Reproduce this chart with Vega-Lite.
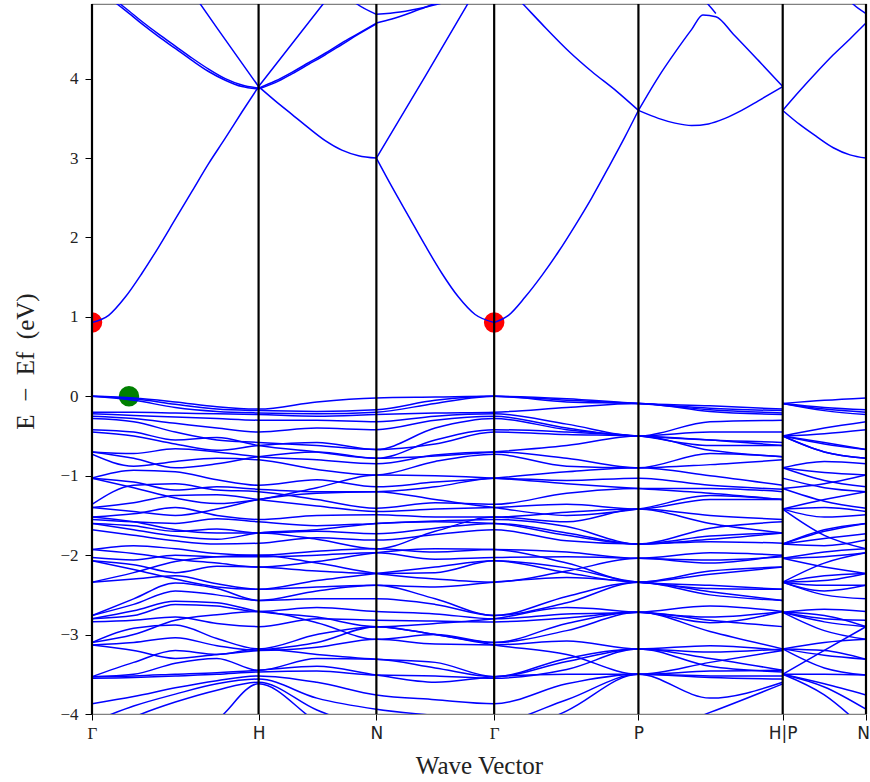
{
"$schema":"https://vega.github.io/schema/vega-lite/v6.json",
"width":774,"height":710,"autosize":"none",
"padding":{"left":92,"top":4,"right":4,"bottom":68},
"background":"white",
"config":{"view":{"stroke":"#808080","strokeWidth":1.2}},
"encoding":{"x":{"field":"k","type":"quantitative","scale":{"domain":[0,4.6463],"nice":false,"zero":false},
 "axis":{"values":[0,1,1.7071,2.4142,3.2802,4.1463,4.6463],
 "labelExpr":"datum.value < 0.5 ? 'Γ' : datum.value < 1.5 ? 'H' : datum.value < 2 ? 'N' : datum.value < 3 ? 'Γ' : datum.value < 4 ? 'P' : datum.value < 4.4 ? 'H|P' : 'N'",
 "title":"Wave Vector","grid":false,"domain":false,"tickSize":6,"tickColor":"#000","tickWidth":1,
 "labelFontSize":17,"labelColor":"#222","labelFlush":false,"labelOverlap":false,"labelPadding":5,
 "labelOffset":{"condition":{"test":"datum.value > 4.6","value":-3},"value":0},
 "labelFont":{"condition":{"test":"datum.value < 0.5 || abs(datum.value - 2.4142) < 0.01","value":"Liberation Serif"},"value":"DejaVu Sans"},
 "titleFont":"Liberation Serif","titleFontSize":25,"titleFontWeight":"normal","titleColor":"#222","titleBaseline":"alphabetic","titleY":59}}},
"layer":[
{"data":{"values":[{"k":0,"e":0.93,"c":"CBM"},{"k":2.4142,"e":0.93,"c":"CBM"},{"k":0.222,"e":0,"c":"VBM"}]},
 "mark":{"type":"circle","opacity":1,"clip":true},
 "encoding":{"y":{"field":"e","type":"quantitative","scale":{"domain":[-4,4.94],"nice":false,"zero":false},
  "axis":{"values":[-4,-3,-2,-1,0,1,2,3,4],"format":"d","grid":false,"domain":false,"tickSize":7,"tickColor":"#000","labelFont":"Liberation Serif","labelFontSize":17,"labelColor":"#222","labelPadding":7,"title":"E\u2002−\u2002Ef\u2002(eV)","titleFont":"Liberation Serif","titleFontSize":25,"titleFontWeight":"normal","titleColor":"#222","titleAngle":270,"titleBaseline":"alphabetic","titleX":-59,"titleY":357}},
  "color":{"field":"c","type":"nominal","scale":{"domain":["CBM","VBM"],"range":["#ff0000","#008000"]},"legend":null},
  "size":{"value":420}}},
{"data":{"values":[
{"b":"c1a","k":0,"e":0.93},{"b":"c1a","k":0.1,"e":1.02},{"b":"c1a","k":0.2,"e":1.25},{"b":"c1a","k":0.3,"e":1.55},{"b":"c1a","k":0.4,"e":1.88},{"b":"c1a","k":0.5,"e":2.23},{"b":"c1a","k":0.6,"e":2.58},{"b":"c1a","k":0.7,"e":2.93},{"b":"c1a","k":0.8,"e":3.25},{"b":"c1a","k":0.9,"e":3.58},{"b":"c1a","k":1,"e":3.9},
{"b":"c1b","k":1,"e":3.9},{"b":"c1b","k":1.1,"e":3.72},{"b":"c1b","k":1.2,"e":3.55},{"b":"c1b","k":1.3,"e":3.38},{"b":"c1b","k":1.4,"e":3.22},{"b":"c1b","k":1.5,"e":3.1},{"b":"c1b","k":1.6,"e":3.03},{"b":"c1b","k":1.7071,"e":3.0},
{"b":"c1c","k":1.7071,"e":3.0},{"b":"c1c","k":1.8,"e":2.64},{"b":"c1c","k":1.9,"e":2.27},{"b":"c1c","k":2.0,"e":1.9},{"b":"c1c","k":2.1,"e":1.55},{"b":"c1c","k":2.2,"e":1.25},{"b":"c1c","k":2.3,"e":1.03},{"b":"c1c","k":2.4142,"e":0.93},
{"b":"c1d","k":2.4142,"e":0.93},{"b":"c1d","k":2.5,"e":1.02},{"b":"c1d","k":2.6,"e":1.25},{"b":"c1d","k":2.7,"e":1.52},{"b":"c1d","k":2.8,"e":1.82},{"b":"c1d","k":2.9,"e":2.15},{"b":"c1d","k":3.0,"e":2.5},{"b":"c1d","k":3.1,"e":2.88},{"b":"c1d","k":3.2,"e":3.27},{"b":"c1d","k":3.2802,"e":3.6},
{"b":"c1e","k":3.2802,"e":3.6},{"b":"c1e","k":3.4,"e":3.5},{"b":"c1e","k":3.5,"e":3.44},{"b":"c1e","k":3.6,"e":3.41},{"b":"c1e","k":3.7,"e":3.43},{"b":"c1e","k":3.8,"e":3.5},{"b":"c1e","k":3.9,"e":3.6},{"b":"c1e","k":4.0,"e":3.72},{"b":"c1e","k":4.1463,"e":3.9},
{"b":"c1f","k":4.1463,"e":3.6},{"b":"c1f","k":4.25,"e":3.42},{"b":"c1f","k":4.35,"e":3.27},{"b":"c1f","k":4.45,"e":3.13},{"b":"c1f","k":4.55,"e":3.04},{"b":"c1f","k":4.6463,"e":3.0},
{"b":"c2a","k":0,"e":5.2},{"b":"c2a","k":0.1,"e":5.05},{"b":"c2a","k":0.2,"e":4.89},{"b":"c2a","k":0.3,"e":4.72},{"b":"c2a","k":0.4,"e":4.56},{"b":"c2a","k":0.5,"e":4.41},{"b":"c2a","k":0.6,"e":4.26},{"b":"c2a","k":0.7,"e":4.12},{"b":"c2a","k":0.8,"e":4.0},{"b":"c2a","k":0.9,"e":3.92},{"b":"c2a","k":1,"e":3.88},
{"b":"c2b","k":0,"e":5.17},{"b":"c2b","k":0.1,"e":5.02},{"b":"c2b","k":0.2,"e":4.86},{"b":"c2b","k":0.3,"e":4.69},{"b":"c2b","k":0.4,"e":4.53},{"b":"c2b","k":0.5,"e":4.38},{"b":"c2b","k":0.6,"e":4.23},{"b":"c2b","k":0.7,"e":4.09},{"b":"c2b","k":0.8,"e":3.98},{"b":"c2b","k":0.9,"e":3.9},{"b":"c2b","k":1,"e":3.87},
{"b":"c2c","k":1,"e":3.88},{"b":"c2c","k":1.1,"e":3.97},{"b":"c2c","k":1.2,"e":4.08},{"b":"c2c","k":1.3,"e":4.2},{"b":"c2c","k":1.4,"e":4.32},{"b":"c2c","k":1.5,"e":4.45},{"b":"c2c","k":1.6,"e":4.57},{"b":"c2c","k":1.7071,"e":4.7},
{"b":"c2d","k":1,"e":3.87},{"b":"c2d","k":1.1,"e":3.95},{"b":"c2d","k":1.2,"e":4.06},{"b":"c2d","k":1.3,"e":4.18},{"b":"c2d","k":1.4,"e":4.3},{"b":"c2d","k":1.5,"e":4.43},{"b":"c2d","k":1.6,"e":4.56},{"b":"c2d","k":1.7071,"e":4.69},
{"b":"c2e","k":1.7071,"e":4.7},{"b":"c2e","k":1.8,"e":4.75},{"b":"c2e","k":1.9,"e":4.82},{"b":"c2e","k":2.0,"e":4.9},{"b":"c2e","k":2.1,"e":4.98},{"b":"c2e","k":2.2,"e":5.06},
{"b":"c3a","k":0.5,"e":5.39},{"b":"c3a","k":0.75,"e":4.64},{"b":"c3a","k":1,"e":3.9},
{"b":"c3b","k":1,"e":3.9},{"b":"c3b","k":1.387,"e":4.94},{"b":"c3b","k":1.5,"e":5.24},
{"b":"c4","k":1.7071,"e":3.0},{"b":"c4","k":2.0,"e":4.03},{"b":"c4","k":2.3,"e":5.1},
{"b":"c5a","k":1.5,"e":5.1},{"b":"c5a","k":1.59,"e":4.94},{"b":"c5a","k":1.7071,"e":4.81},
{"b":"c5b","k":1.7071,"e":4.81},{"b":"c5b","k":1.85,"e":4.84},{"b":"c5b","k":2.0,"e":4.9},{"b":"c5b","k":2.15,"e":4.98},
{"b":"c6","k":2.5,"e":5.13},{"b":"c6","k":2.587,"e":4.94},{"b":"c6","k":2.7,"e":4.69},{"b":"c6","k":2.87,"e":4.33},{"b":"c6","k":3.0,"e":4.09},{"b":"c6","k":3.15,"e":3.84},{"b":"c6","k":3.2802,"e":3.6},
{"b":"c7","k":3.2802,"e":3.6},{"b":"c7","k":3.4,"e":4.02},{"b":"c7","k":3.5,"e":4.33},{"b":"c7","k":3.6,"e":4.62},{"b":"c7","k":3.667,"e":4.8},{"b":"c7","k":3.745,"e":4.78},{"b":"c7","k":3.85,"e":4.56},{"b":"c7","k":4.0,"e":4.23},{"b":"c7","k":4.1463,"e":3.9},
{"b":"c8","k":3.6,"e":5.12},{"b":"c8","k":3.697,"e":4.94},{"b":"c8","k":3.745,"e":4.82},
{"b":"c9","k":4.1463,"e":3.6},{"b":"c9","k":4.25,"e":3.85},{"b":"c9","k":4.35,"e":4.08},{"b":"c9","k":4.45,"e":4.3},{"b":"c9","k":4.55,"e":4.5},{"b":"c9","k":4.6463,"e":4.7},
{"b":"c10","k":4.5,"e":5.1},{"b":"c10","k":4.568,"e":4.94},{"b":"c10","k":4.6463,"e":4.82},
{"b":"v1","k":0,"e":0},{"b":"v1","k":0.25,"e":-0.02},{"b":"v1","k":0.5,"e":-0.07},{"b":"v1","k":0.75,"e":-0.13},{"b":"v1","k":1,"e":-0.16},{"b":"v1","k":1.35,"e":-0.07},{"b":"v1","k":1.7071,"e":-0.02},{"b":"v1","k":2.06,"e":-0.01},{"b":"v1","k":2.4142,"e":0},{"b":"v1","k":2.85,"e":-0.03},{"b":"v1","k":3.2802,"e":-0.09},{"b":"v1","k":3.71,"e":-0.12},{"b":"v1","k":4.1463,"e":-0.16},
{"b":"v1p","k":4.1463,"e":-0.09},{"b":"v1p","k":4.396,"e":-0.05},{"b":"v1p","k":4.6463,"e":-0.02},
{"b":"v2","k":0,"e":0},{"b":"v2","k":0.25,"e":-0.03},{"b":"v2","k":0.5,"e":-0.1},{"b":"v2","k":0.75,"e":-0.16},{"b":"v2","k":1,"e":-0.18},{"b":"v2","k":1.35,"e":-0.19},{"b":"v2","k":1.7071,"e":-0.17},{"b":"v2","k":2.06,"e":-0.05},{"b":"v2","k":2.4142,"e":0},{"b":"v2","k":2.85,"e":-0.05},{"b":"v2","k":3.2802,"e":-0.09},{"b":"v2","k":3.71,"e":-0.15},{"b":"v2","k":4.1463,"e":-0.18},
{"b":"v2p","k":4.1463,"e":-0.09},{"b":"v2p","k":4.396,"e":-0.14},{"b":"v2p","k":4.6463,"e":-0.17},
{"b":"v3","k":0,"e":0},{"b":"v3","k":0.25,"e":-0.05},{"b":"v3","k":0.5,"e":-0.14},{"b":"v3","k":0.75,"e":-0.19},{"b":"v3","k":1,"e":-0.21},{"b":"v3","k":1.35,"e":-0.22},{"b":"v3","k":1.7071,"e":-0.2},{"b":"v3","k":2.06,"e":-0.09},{"b":"v3","k":2.4142,"e":0},{"b":"v3","k":2.85,"e":-0.07},{"b":"v3","k":3.2802,"e":-0.09},{"b":"v3","k":3.71,"e":-0.17},{"b":"v3","k":4.1463,"e":-0.21},
{"b":"v3p","k":4.1463,"e":-0.09},{"b":"v3p","k":4.396,"e":-0.16},{"b":"v3p","k":4.6463,"e":-0.2},
{"b":"v4","k":0,"e":-0.2},{"b":"v4","k":0.25,"e":-0.2},{"b":"v4","k":0.5,"e":-0.21},{"b":"v4","k":0.75,"e":-0.22},{"b":"v4","k":1,"e":-0.23},{"b":"v4","k":1.35,"e":-0.25},{"b":"v4","k":1.7071,"e":-0.23},{"b":"v4","k":2.06,"e":-0.21},{"b":"v4","k":2.4142,"e":-0.2},{"b":"v4","k":2.85,"e":-0.14},{"b":"v4","k":3.2802,"e":-0.09},{"b":"v4","k":3.71,"e":-0.19},{"b":"v4","k":4.1463,"e":-0.23},
{"b":"v4p","k":4.1463,"e":-0.09},{"b":"v4p","k":4.396,"e":-0.18},{"b":"v4p","k":4.6463,"e":-0.23},
{"b":"v5","k":0,"e":-0.22},{"b":"v5","k":0.25,"e":-0.24},{"b":"v5","k":0.5,"e":-0.26},{"b":"v5","k":0.75,"e":-0.28},{"b":"v5","k":1,"e":-0.3},{"b":"v5","k":1.35,"e":-0.3},{"b":"v5","k":1.7071,"e":-0.32},{"b":"v5","k":2.06,"e":-0.25},{"b":"v5","k":2.4142,"e":-0.22},{"b":"v5","k":2.85,"e":-0.35},{"b":"v5","k":3.2802,"e":-0.5},{"b":"v5","k":3.71,"e":-0.32},{"b":"v5","k":4.1463,"e":-0.3},
{"b":"v5p","k":4.1463,"e":-0.5},{"b":"v5p","k":4.396,"e":-0.4},{"b":"v5p","k":4.6463,"e":-0.32},
{"b":"v6","k":0,"e":-0.25},{"b":"v6","k":0.25,"e":-0.28},{"b":"v6","k":0.5,"e":-0.34},{"b":"v6","k":0.75,"e":-0.4},{"b":"v6","k":1,"e":-0.45},{"b":"v6","k":1.35,"e":-0.4},{"b":"v6","k":1.7071,"e":-0.42},{"b":"v6","k":2.06,"e":-0.3},{"b":"v6","k":2.4142,"e":-0.25},{"b":"v6","k":2.85,"e":-0.4},{"b":"v6","k":3.2802,"e":-0.5},{"b":"v6","k":3.71,"e":-0.45},{"b":"v6","k":4.1463,"e":-0.45},
{"b":"v6p","k":4.1463,"e":-0.5},{"b":"v6p","k":4.396,"e":-0.47},{"b":"v6p","k":4.6463,"e":-0.42},
{"b":"v7","k":0,"e":-0.28},{"b":"v7","k":0.25,"e":-0.32},{"b":"v7","k":0.5,"e":-0.45},{"b":"v7","k":0.75,"e":-0.55},{"b":"v7","k":1,"e":-0.58},{"b":"v7","k":1.35,"e":-0.62},{"b":"v7","k":1.7071,"e":-0.67},{"b":"v7","k":2.06,"e":-0.4},{"b":"v7","k":2.4142,"e":-0.28},{"b":"v7","k":2.85,"e":-0.42},{"b":"v7","k":3.2802,"e":-0.5},{"b":"v7","k":3.71,"e":-0.55},{"b":"v7","k":4.1463,"e":-0.58},
{"b":"v7p","k":4.1463,"e":-0.5},{"b":"v7p","k":4.396,"e":-0.58},{"b":"v7p","k":4.6463,"e":-0.67},
{"b":"v8","k":0,"e":-0.42},{"b":"v8","k":0.25,"e":-0.45},{"b":"v8","k":0.5,"e":-0.55},{"b":"v8","k":0.75,"e":-0.52},{"b":"v8","k":1,"e":-0.62},{"b":"v8","k":1.35,"e":-0.7},{"b":"v8","k":1.7071,"e":-0.78},{"b":"v8","k":2.06,"e":-0.55},{"b":"v8","k":2.4142,"e":-0.42},{"b":"v8","k":2.85,"e":-0.45},{"b":"v8","k":3.2802,"e":-0.5},{"b":"v8","k":3.71,"e":-0.62},{"b":"v8","k":4.1463,"e":-0.62},
{"b":"v8p","k":4.1463,"e":-0.5},{"b":"v8p","k":4.396,"e":-0.7},{"b":"v8p","k":4.6463,"e":-0.78},
{"b":"v9","k":0,"e":-0.7},{"b":"v9","k":0.25,"e":-0.72},{"b":"v9","k":0.5,"e":-0.66},{"b":"v9","k":0.75,"e":-0.7},{"b":"v9","k":1,"e":-0.76},{"b":"v9","k":1.35,"e":-0.8},{"b":"v9","k":1.7071,"e":-0.85},{"b":"v9","k":2.06,"e":-0.74},{"b":"v9","k":2.4142,"e":-0.7},{"b":"v9","k":2.85,"e":-0.78},{"b":"v9","k":3.2802,"e":-0.9},{"b":"v9","k":3.71,"e":-0.72},{"b":"v9","k":4.1463,"e":-0.76},
{"b":"v9p","k":4.1463,"e":-0.9},{"b":"v9p","k":4.396,"e":-0.82},{"b":"v9p","k":4.6463,"e":-0.85},
{"b":"v10","k":0,"e":-0.73},{"b":"v10","k":0.25,"e":-0.88},{"b":"v10","k":0.5,"e":-0.82},{"b":"v10","k":0.75,"e":-0.78},{"b":"v10","k":1,"e":-0.8},{"b":"v10","k":1.35,"e":-0.92},{"b":"v10","k":1.7071,"e":-0.99},{"b":"v10","k":2.06,"e":-0.82},{"b":"v10","k":2.4142,"e":-0.73},{"b":"v10","k":2.85,"e":-0.88},{"b":"v10","k":3.2802,"e":-0.9},{"b":"v10","k":3.71,"e":-0.86},{"b":"v10","k":4.1463,"e":-0.8},
{"b":"v10p","k":4.1463,"e":-0.9},{"b":"v10p","k":4.396,"e":-0.96},{"b":"v10p","k":4.6463,"e":-0.99},
{"b":"v11","k":0,"e":-1.03},{"b":"v11","k":0.25,"e":-0.93},{"b":"v11","k":0.5,"e":-0.95},{"b":"v11","k":0.75,"e":-1.05},{"b":"v11","k":1,"e":-1.12},{"b":"v11","k":1.35,"e":-1.05},{"b":"v11","k":1.7071,"e":-1.14},{"b":"v11","k":2.06,"e":-1.08},{"b":"v11","k":2.4142,"e":-1.03},{"b":"v11","k":2.85,"e":-0.95},{"b":"v11","k":3.2802,"e":-0.9},{"b":"v11","k":3.71,"e":-1.0},{"b":"v11","k":4.1463,"e":-1.12},
{"b":"v11p","k":4.1463,"e":-0.9},{"b":"v11p","k":4.396,"e":-1.06},{"b":"v11p","k":4.6463,"e":-1.14},
{"b":"v12","k":0,"e":-1.03},{"b":"v12","k":0.25,"e":-1.08},{"b":"v12","k":0.5,"e":-1.18},{"b":"v12","k":0.75,"e":-1.14},{"b":"v12","k":1,"e":-1.17},{"b":"v12","k":1.35,"e":-1.2},{"b":"v12","k":1.7071,"e":-1.2},{"b":"v12","k":2.06,"e":-1.14},{"b":"v12","k":2.4142,"e":-1.03},{"b":"v12","k":2.85,"e":-1.06},{"b":"v12","k":3.2802,"e":-1.03},{"b":"v12","k":3.71,"e":-1.12},{"b":"v12","k":4.1463,"e":-1.17},
{"b":"v12p","k":4.1463,"e":-1.03},{"b":"v12p","k":4.396,"e":-1.15},{"b":"v12p","k":4.6463,"e":-1.2},
{"b":"v13","k":0,"e":-1.36},{"b":"v13","k":0.25,"e":-1.12},{"b":"v13","k":0.5,"e":-1.1},{"b":"v13","k":0.75,"e":-1.18},{"b":"v13","k":1,"e":-1.2},{"b":"v13","k":1.35,"e":-1.3},{"b":"v13","k":1.7071,"e":-1.41},{"b":"v13","k":2.06,"e":-1.34},{"b":"v13","k":2.4142,"e":-1.36},{"b":"v13","k":2.85,"e":-1.22},{"b":"v13","k":3.2802,"e":-1.16},{"b":"v13","k":3.71,"e":-1.16},{"b":"v13","k":4.1463,"e":-1.2},
{"b":"v13p","k":4.1463,"e":-1.16},{"b":"v13p","k":4.396,"e":-1.32},{"b":"v13p","k":4.6463,"e":-1.41},
{"b":"v14","k":0,"e":-1.4},{"b":"v14","k":0.25,"e":-1.34},{"b":"v14","k":0.5,"e":-1.25},{"b":"v14","k":0.75,"e":-1.24},{"b":"v14","k":1,"e":-1.3},{"b":"v14","k":1.35,"e":-1.38},{"b":"v14","k":1.7071,"e":-1.45},{"b":"v14","k":2.06,"e":-1.42},{"b":"v14","k":2.4142,"e":-1.4},{"b":"v14","k":2.85,"e":-1.36},{"b":"v14","k":3.2802,"e":-1.42},{"b":"v14","k":3.71,"e":-1.3},{"b":"v14","k":4.1463,"e":-1.3},
{"b":"v14p","k":4.1463,"e":-1.42},{"b":"v14p","k":4.396,"e":-1.4},{"b":"v14p","k":4.6463,"e":-1.45},
{"b":"v15","k":0,"e":-1.52},{"b":"v15","k":0.25,"e":-1.48},{"b":"v15","k":0.5,"e":-1.4},{"b":"v15","k":0.75,"e":-1.5},{"b":"v15","k":1,"e":-1.55},{"b":"v15","k":1.35,"e":-1.5},{"b":"v15","k":1.7071,"e":-1.49},{"b":"v15","k":2.06,"e":-1.52},{"b":"v15","k":2.4142,"e":-1.52},{"b":"v15","k":2.85,"e":-1.46},{"b":"v15","k":3.2802,"e":-1.42},{"b":"v15","k":3.71,"e":-1.5},{"b":"v15","k":4.1463,"e":-1.55},
{"b":"v15p","k":4.1463,"e":-1.42},{"b":"v15p","k":4.396,"e":-1.52},{"b":"v15p","k":4.6463,"e":-1.49},
{"b":"v16","k":0,"e":-1.55},{"b":"v16","k":0.25,"e":-1.58},{"b":"v16","k":0.5,"e":-1.6},{"b":"v16","k":0.75,"e":-1.54},{"b":"v16","k":1,"e":-1.58},{"b":"v16","k":1.35,"e":-1.63},{"b":"v16","k":1.7071,"e":-1.6},{"b":"v16","k":2.06,"e":-1.57},{"b":"v16","k":2.4142,"e":-1.55},{"b":"v16","k":2.85,"e":-1.64},{"b":"v16","k":3.2802,"e":-1.86},{"b":"v16","k":3.71,"e":-1.66},{"b":"v16","k":4.1463,"e":-1.58},
{"b":"v16p","k":4.1463,"e":-1.86},{"b":"v16p","k":4.396,"e":-1.68},{"b":"v16p","k":4.6463,"e":-1.6},
{"b":"v17","k":0,"e":-1.6},{"b":"v17","k":0.25,"e":-1.63},{"b":"v17","k":0.5,"e":-1.7},{"b":"v17","k":0.75,"e":-1.67},{"b":"v17","k":1,"e":-1.72},{"b":"v17","k":1.35,"e":-1.7},{"b":"v17","k":1.7071,"e":-1.73},{"b":"v17","k":2.06,"e":-1.66},{"b":"v17","k":2.4142,"e":-1.6},{"b":"v17","k":2.85,"e":-1.72},{"b":"v17","k":3.2802,"e":-1.86},{"b":"v17","k":3.71,"e":-1.76},{"b":"v17","k":4.1463,"e":-1.72},
{"b":"v17p","k":4.1463,"e":-1.86},{"b":"v17p","k":4.396,"e":-1.79},{"b":"v17p","k":4.6463,"e":-1.73},
{"b":"v18","k":0,"e":-1.68},{"b":"v18","k":0.25,"e":-1.75},{"b":"v18","k":0.5,"e":-1.82},{"b":"v18","k":0.75,"e":-1.86},{"b":"v18","k":1,"e":-1.85},{"b":"v18","k":1.35,"e":-1.78},{"b":"v18","k":1.7071,"e":-1.81},{"b":"v18","k":2.06,"e":-1.74},{"b":"v18","k":2.4142,"e":-1.68},{"b":"v18","k":2.85,"e":-1.82},{"b":"v18","k":3.2802,"e":-1.86},{"b":"v18","k":3.71,"e":-1.83},{"b":"v18","k":4.1463,"e":-1.85},
{"b":"v18p","k":4.1463,"e":-1.86},{"b":"v18p","k":4.396,"e":-1.88},{"b":"v18p","k":4.6463,"e":-1.81},
{"b":"v19","k":0,"e":-1.93},{"b":"v19","k":0.25,"e":-1.88},{"b":"v19","k":0.5,"e":-1.92},{"b":"v19","k":0.75,"e":-1.98},{"b":"v19","k":1,"e":-2.0},{"b":"v19","k":1.35,"e":-1.95},{"b":"v19","k":1.7071,"e":-1.92},{"b":"v19","k":2.06,"e":-1.96},{"b":"v19","k":2.4142,"e":-1.93},{"b":"v19","k":2.85,"e":-1.96},{"b":"v19","k":3.2802,"e":-2.04},{"b":"v19","k":3.71,"e":-1.97},{"b":"v19","k":4.1463,"e":-2.0},
{"b":"v19p","k":4.1463,"e":-2.04},{"b":"v19p","k":4.396,"e":-1.96},{"b":"v19p","k":4.6463,"e":-1.92},
{"b":"v20","k":0,"e":-2.03},{"b":"v20","k":0.25,"e":-2.06},{"b":"v20","k":0.5,"e":-2.0},{"b":"v20","k":0.75,"e":-2.02},{"b":"v20","k":1,"e":-2.02},{"b":"v20","k":1.35,"e":-2.0},{"b":"v20","k":1.7071,"e":-1.97},{"b":"v20","k":2.06,"e":-2.05},{"b":"v20","k":2.4142,"e":-2.03},{"b":"v20","k":2.85,"e":-2.02},{"b":"v20","k":3.2802,"e":-2.04},{"b":"v20","k":3.71,"e":-2.06},{"b":"v20","k":4.1463,"e":-2.02},
{"b":"v20p","k":4.1463,"e":-2.04},{"b":"v20p","k":4.396,"e":-2.02},{"b":"v20p","k":4.6463,"e":-1.97},
{"b":"v21","k":0,"e":-2.07},{"b":"v21","k":0.25,"e":-2.12},{"b":"v21","k":0.5,"e":-2.22},{"b":"v21","k":0.75,"e":-2.14},{"b":"v21","k":1,"e":-2.15},{"b":"v21","k":1.35,"e":-2.2},{"b":"v21","k":1.7071,"e":-2.23},{"b":"v21","k":2.06,"e":-2.22},{"b":"v21","k":2.4142,"e":-2.07},{"b":"v21","k":2.85,"e":-2.22},{"b":"v21","k":3.2802,"e":-2.34},{"b":"v21","k":3.71,"e":-2.24},{"b":"v21","k":4.1463,"e":-2.15},
{"b":"v21p","k":4.1463,"e":-2.34},{"b":"v21p","k":4.396,"e":-2.26},{"b":"v21p","k":4.6463,"e":-2.23},
{"b":"v22","k":0,"e":-2.34},{"b":"v22","k":0.25,"e":-2.3},{"b":"v22","k":0.5,"e":-2.26},{"b":"v22","k":0.75,"e":-2.36},{"b":"v22","k":1,"e":-2.43},{"b":"v22","k":1.35,"e":-2.4},{"b":"v22","k":1.7071,"e":-2.38},{"b":"v22","k":2.06,"e":-2.4},{"b":"v22","k":2.4142,"e":-2.34},{"b":"v22","k":2.85,"e":-2.28},{"b":"v22","k":3.2802,"e":-2.34},{"b":"v22","k":3.71,"e":-2.42},{"b":"v22","k":4.1463,"e":-2.43},
{"b":"v22p","k":4.1463,"e":-2.34},{"b":"v22p","k":4.396,"e":-2.38},{"b":"v22p","k":4.6463,"e":-2.38},
{"b":"v23","k":0,"e":-2.76},{"b":"v23","k":0.25,"e":-2.62},{"b":"v23","k":0.5,"e":-2.45},{"b":"v23","k":0.75,"e":-2.5},{"b":"v23","k":1,"e":-2.57},{"b":"v23","k":1.35,"e":-2.55},{"b":"v23","k":1.7071,"e":-2.55},{"b":"v23","k":2.06,"e":-2.62},{"b":"v23","k":2.4142,"e":-2.76},{"b":"v23","k":2.85,"e":-2.52},{"b":"v23","k":3.2802,"e":-2.34},{"b":"v23","k":3.71,"e":-2.46},{"b":"v23","k":4.1463,"e":-2.57},
{"b":"v23p","k":4.1463,"e":-2.34},{"b":"v23p","k":4.396,"e":-2.5},{"b":"v23p","k":4.6463,"e":-2.55},
{"b":"v24","k":0,"e":-2.8},{"b":"v24","k":0.25,"e":-2.76},{"b":"v24","k":0.5,"e":-2.62},{"b":"v24","k":0.75,"e":-2.64},{"b":"v24","k":1,"e":-2.71},{"b":"v24","k":1.35,"e":-2.66},{"b":"v24","k":1.7071,"e":-2.71},{"b":"v24","k":2.06,"e":-2.74},{"b":"v24","k":2.4142,"e":-2.8},{"b":"v24","k":2.85,"e":-2.74},{"b":"v24","k":3.2802,"e":-2.72},{"b":"v24","k":3.71,"e":-2.64},{"b":"v24","k":4.1463,"e":-2.71},
{"b":"v24p","k":4.1463,"e":-2.72},{"b":"v24p","k":4.396,"e":-2.68},{"b":"v24p","k":4.6463,"e":-2.71},
{"b":"v25","k":0,"e":-2.84},{"b":"v25","k":0.25,"e":-2.82},{"b":"v25","k":0.5,"e":-2.78},{"b":"v25","k":0.75,"e":-2.86},{"b":"v25","k":1,"e":-2.9},{"b":"v25","k":1.35,"e":-2.8},{"b":"v25","k":1.7071,"e":-2.82},{"b":"v25","k":2.06,"e":-2.83},{"b":"v25","k":2.4142,"e":-2.84},{"b":"v25","k":2.85,"e":-2.79},{"b":"v25","k":3.2802,"e":-2.72},{"b":"v25","k":3.71,"e":-2.82},{"b":"v25","k":4.1463,"e":-2.9},
{"b":"v25p","k":4.1463,"e":-2.72},{"b":"v25p","k":4.396,"e":-2.8},{"b":"v25p","k":4.6463,"e":-2.82},
{"b":"v26","k":0,"e":-3.1},{"b":"v26","k":0.25,"e":-2.92},{"b":"v26","k":0.5,"e":-2.88},{"b":"v26","k":0.75,"e":-3.05},{"b":"v26","k":1,"e":-3.18},{"b":"v26","k":1.35,"e":-3.0},{"b":"v26","k":1.7071,"e":-2.9},{"b":"v26","k":2.06,"e":-3.0},{"b":"v26","k":2.4142,"e":-3.1},{"b":"v26","k":2.85,"e":-2.86},{"b":"v26","k":3.2802,"e":-2.72},{"b":"v26","k":3.71,"e":-2.96},{"b":"v26","k":4.1463,"e":-3.18},
{"b":"v26p","k":4.1463,"e":-2.72},{"b":"v26p","k":4.396,"e":-2.84},{"b":"v26p","k":4.6463,"e":-2.9},
{"b":"v27","k":0,"e":-3.13},{"b":"v27","k":0.25,"e":-3.1},{"b":"v27","k":0.5,"e":-3.04},{"b":"v27","k":0.75,"e":-3.14},{"b":"v27","k":1,"e":-3.2},{"b":"v27","k":1.35,"e":-3.16},{"b":"v27","k":1.7071,"e":-3.06},{"b":"v27","k":2.06,"e":-3.12},{"b":"v27","k":2.4142,"e":-3.13},{"b":"v27","k":2.85,"e":-3.08},{"b":"v27","k":3.2802,"e":-3.18},{"b":"v27","k":3.71,"e":-3.14},{"b":"v27","k":4.1463,"e":-3.2},
{"b":"v27p","k":4.1463,"e":-3.18},{"b":"v27p","k":4.396,"e":-3.1},{"b":"v27p","k":4.6463,"e":-3.06},
{"b":"v28","k":0,"e":-3.53},{"b":"v28","k":0.25,"e":-3.5},{"b":"v28","k":0.5,"e":-3.36},{"b":"v28","k":0.75,"e":-3.3},{"b":"v28","k":1,"e":-3.45},{"b":"v28","k":1.35,"e":-3.3},{"b":"v28","k":1.7071,"e":-3.31},{"b":"v28","k":2.06,"e":-3.42},{"b":"v28","k":2.4142,"e":-3.53},{"b":"v28","k":2.85,"e":-3.34},{"b":"v28","k":3.2802,"e":-3.18},{"b":"v28","k":3.71,"e":-3.3},{"b":"v28","k":4.1463,"e":-3.45},
{"b":"v28p","k":4.1463,"e":-3.18},{"b":"v28p","k":4.396,"e":-3.26},{"b":"v28p","k":4.6463,"e":-3.31},
{"b":"v29","k":0,"e":-3.55},{"b":"v29","k":0.25,"e":-3.54},{"b":"v29","k":0.5,"e":-3.52},{"b":"v29","k":0.75,"e":-3.5},{"b":"v29","k":1,"e":-3.47},{"b":"v29","k":1.35,"e":-3.46},{"b":"v29","k":1.7071,"e":-3.51},{"b":"v29","k":2.06,"e":-3.52},{"b":"v29","k":2.4142,"e":-3.55},{"b":"v29","k":2.85,"e":-3.44},{"b":"v29","k":3.2802,"e":-3.18},{"b":"v29","k":3.71,"e":-3.4},{"b":"v29","k":4.1463,"e":-3.47},
{"b":"v29p","k":4.1463,"e":-3.18},{"b":"v29p","k":4.396,"e":-3.42},{"b":"v29p","k":4.6463,"e":-3.51},
{"b":"v30","k":0,"e":-3.87},{"b":"v30","k":0.25,"e":-3.78},{"b":"v30","k":0.5,"e":-3.67},{"b":"v30","k":0.75,"e":-3.58},{"b":"v30","k":1,"e":-3.52},{"b":"v30","k":1.35,"e":-3.6},{"b":"v30","k":1.7071,"e":-3.76},{"b":"v30","k":2.06,"e":-3.82},{"b":"v30","k":2.4142,"e":-3.87},{"b":"v30","k":2.85,"e":-3.62},{"b":"v30","k":3.2802,"e":-3.5},{"b":"v30","k":3.71,"e":-3.52},{"b":"v30","k":4.1463,"e":-3.52},
{"b":"v30p","k":4.1463,"e":-3.5},{"b":"v30p","k":4.396,"e":-3.62},{"b":"v30p","k":4.6463,"e":-3.76},
{"b":"v31","k":0,"e":-4.1},{"b":"v31","k":0.25,"e":-3.9},{"b":"v31","k":0.5,"e":-3.75},{"b":"v31","k":0.75,"e":-3.62},{"b":"v31","k":1,"e":-3.56},{"b":"v31","k":1.35,"e":-3.8},{"b":"v31","k":1.7071,"e":-3.94},{"b":"v31","k":2.06,"e":-4.02},{"b":"v31","k":2.4142,"e":-4.1},{"b":"v31","k":2.85,"e":-3.82},{"b":"v31","k":3.2802,"e":-3.5},{"b":"v31","k":3.71,"e":-3.54},{"b":"v31","k":4.1463,"e":-3.56},
{"b":"v31p","k":4.1463,"e":-3.5},{"b":"v31p","k":4.396,"e":-3.66},{"b":"v31p","k":4.6463,"e":-3.94},
{"b":"v32","k":0,"e":-4.3},{"b":"v32","k":0.25,"e":-4.04},{"b":"v32","k":0.5,"e":-3.85},{"b":"v32","k":0.75,"e":-3.7},{"b":"v32","k":1,"e":-3.6},{"b":"v32","k":1.35,"e":-3.95},{"b":"v32","k":1.7071,"e":-4.2},{"b":"v32","k":2.06,"e":-4.3},{"b":"v32","k":2.4142,"e":-4.3},{"b":"v32","k":2.85,"e":-3.96},{"b":"v32","k":3.2802,"e":-3.5},{"b":"v32","k":3.71,"e":-3.8},{"b":"v32","k":4.1463,"e":-3.6},
{"b":"v32p","k":4.1463,"e":-3.5},{"b":"v32p","k":4.396,"e":-3.76},{"b":"v32p","k":4.6463,"e":-4.2},
{"b":"v33","k":0,"e":-5},{"b":"v33","k":0.25,"e":-4.8},{"b":"v33","k":0.5,"e":-4.4},{"b":"v33","k":0.75,"e":-4.08},{"b":"v33","k":1,"e":-3.62},{"b":"v33","k":1.35,"e":-4.1},{"b":"v33","k":1.7071,"e":-4.5},{"b":"v33","k":2.06,"e":-4.5},{"b":"v33","k":2.4142,"e":-4.6},{"b":"v33","k":2.85,"e":-4.25},{"b":"v33","k":3.2802,"e":-4.3},{"b":"v33","k":3.71,"e":-3.98},{"b":"v33","k":4.1463,"e":-3.62},
{"b":"v33p","k":4.1463,"e":-4.3},{"b":"v33p","k":4.396,"e":-4.3},{"b":"v33p","k":4.6463,"e":-4.4},
{"b":"v34","k":0,"e":-0.45},{"b":"v34","k":0.25,"e":-0.5},{"b":"v34","k":0.5,"e":-0.6},{"b":"v34","k":0.75,"e":-0.68},{"b":"v34","k":1,"e":-0.62},{"b":"v34","k":1.35,"e":-0.58},{"b":"v34","k":1.7071,"e":-0.67},{"b":"v34","k":2.06,"e":-0.6},{"b":"v34","k":2.4142,"e":-0.45},{"b":"v34","k":2.85,"e":-0.48},{"b":"v34","k":3.2802,"e":-0.5},{"b":"v34","k":3.71,"e":-0.55},{"b":"v34","k":4.1463,"e":-0.62},
{"b":"v34p","k":4.1463,"e":-0.5},{"b":"v34p","k":4.396,"e":-0.6},{"b":"v34p","k":4.6463,"e":-0.67},
{"b":"v35","k":0,"e":-1.4},{"b":"v35","k":0.25,"e":-1.45},{"b":"v35","k":0.5,"e":-1.5},{"b":"v35","k":0.75,"e":-1.42},{"b":"v35","k":1,"e":-1.3},{"b":"v35","k":1.35,"e":-1.22},{"b":"v35","k":1.7071,"e":-1.2},{"b":"v35","k":2.06,"e":-1.3},{"b":"v35","k":2.4142,"e":-1.4},{"b":"v35","k":2.85,"e":-1.5},{"b":"v35","k":3.2802,"e":-1.42},{"b":"v35","k":3.71,"e":-1.25},{"b":"v35","k":4.1463,"e":-1.3},
{"b":"v35p","k":4.1463,"e":-1.42},{"b":"v35p","k":4.396,"e":-1.3},{"b":"v35p","k":4.6463,"e":-1.2},
{"b":"v36","k":0,"e":-1.6},{"b":"v36","k":0.25,"e":-1.68},{"b":"v36","k":0.5,"e":-1.76},{"b":"v36","k":0.75,"e":-1.8},{"b":"v36","k":1,"e":-1.72},{"b":"v36","k":1.35,"e":-1.68},{"b":"v36","k":1.7071,"e":-1.6},{"b":"v36","k":2.06,"e":-1.58},{"b":"v36","k":2.4142,"e":-1.6},{"b":"v36","k":2.85,"e":-1.75},{"b":"v36","k":3.2802,"e":-1.86},{"b":"v36","k":3.71,"e":-1.8},{"b":"v36","k":4.1463,"e":-1.72},
{"b":"v36p","k":4.1463,"e":-1.86},{"b":"v36p","k":4.396,"e":-1.7},{"b":"v36p","k":4.6463,"e":-1.6},
{"b":"v37","k":0,"e":-2.07},{"b":"v37","k":0.25,"e":-2.18},{"b":"v37","k":0.5,"e":-2.3},{"b":"v37","k":0.75,"e":-2.4},{"b":"v37","k":1,"e":-2.43},{"b":"v37","k":1.35,"e":-2.32},{"b":"v37","k":1.7071,"e":-2.23},{"b":"v37","k":2.06,"e":-2.15},{"b":"v37","k":2.4142,"e":-2.07},{"b":"v37","k":2.85,"e":-2.16},{"b":"v37","k":3.2802,"e":-2.34},{"b":"v37","k":3.71,"e":-2.38},{"b":"v37","k":4.1463,"e":-2.43},
{"b":"v37p","k":4.1463,"e":-2.34},{"b":"v37p","k":4.396,"e":-2.32},{"b":"v37p","k":4.6463,"e":-2.23},
{"b":"v38","k":0,"e":-2.8},{"b":"v38","k":0.25,"e":-2.7},{"b":"v38","k":0.5,"e":-2.58},{"b":"v38","k":0.75,"e":-2.6},{"b":"v38","k":1,"e":-2.71},{"b":"v38","k":1.35,"e":-2.78},{"b":"v38","k":1.7071,"e":-2.9},{"b":"v38","k":2.06,"e":-2.86},{"b":"v38","k":2.4142,"e":-2.8},{"b":"v38","k":2.85,"e":-2.66},{"b":"v38","k":3.2802,"e":-2.72},{"b":"v38","k":3.71,"e":-2.78},{"b":"v38","k":4.1463,"e":-2.71},
{"b":"v38p","k":4.1463,"e":-2.72},{"b":"v38p","k":4.396,"e":-2.76},{"b":"v38p","k":4.6463,"e":-2.9},
{"b":"v39","k":0,"e":-2.34},{"b":"v39","k":0.25,"e":-2.22},{"b":"v39","k":0.5,"e":-2.08},{"b":"v39","k":0.75,"e":-2.02},{"b":"v39","k":1,"e":-2.0},{"b":"v39","k":1.35,"e":-2.1},{"b":"v39","k":1.7071,"e":-2.23},{"b":"v39","k":2.06,"e":-2.3},{"b":"v39","k":2.4142,"e":-2.34},{"b":"v39","k":2.85,"e":-2.2},{"b":"v39","k":3.2802,"e":-2.04},{"b":"v39","k":3.71,"e":-2.1},{"b":"v39","k":4.1463,"e":-2.0},
{"b":"v39p","k":4.1463,"e":-2.04},{"b":"v39p","k":4.396,"e":-2.15},{"b":"v39p","k":4.6463,"e":-2.23},
{"b":"v40","k":0,"e":-2.76},{"b":"v40","k":0.25,"e":-2.55},{"b":"v40","k":0.5,"e":-2.35},{"b":"v40","k":0.75,"e":-2.42},{"b":"v40","k":1,"e":-2.57},{"b":"v40","k":1.35,"e":-2.45},{"b":"v40","k":1.7071,"e":-2.38},{"b":"v40","k":2.06,"e":-2.55},{"b":"v40","k":2.4142,"e":-2.76},{"b":"v40","k":2.85,"e":-2.6},{"b":"v40","k":3.2802,"e":-2.34},{"b":"v40","k":3.71,"e":-2.5},{"b":"v40","k":4.1463,"e":-2.57},
{"b":"v40p","k":4.1463,"e":-2.34},{"b":"v40p","k":4.396,"e":-2.45},{"b":"v40p","k":4.6463,"e":-2.38},
{"b":"v41","k":0,"e":-3.1},{"b":"v41","k":0.25,"e":-3.0},{"b":"v41","k":0.5,"e":-2.82},{"b":"v41","k":0.75,"e":-2.75},{"b":"v41","k":1,"e":-2.71},{"b":"v41","k":1.35,"e":-2.85},{"b":"v41","k":1.7071,"e":-3.06},{"b":"v41","k":2.06,"e":-3.0},{"b":"v41","k":2.4142,"e":-3.1},{"b":"v41","k":2.85,"e":-2.95},{"b":"v41","k":3.2802,"e":-2.72},{"b":"v41","k":3.71,"e":-2.85},{"b":"v41","k":4.1463,"e":-2.71},
{"b":"v41p","k":4.1463,"e":-2.72},{"b":"v41p","k":4.396,"e":-2.95},{"b":"v41p","k":4.6463,"e":-3.06},
{"b":"v42","k":0,"e":-3.53},{"b":"v42","k":0.25,"e":-3.35},{"b":"v42","k":0.5,"e":-3.2},{"b":"v42","k":0.75,"e":-3.25},{"b":"v42","k":1,"e":-3.18},{"b":"v42","k":1.35,"e":-3.25},{"b":"v42","k":1.7071,"e":-3.31},{"b":"v42","k":2.06,"e":-3.35},{"b":"v42","k":2.4142,"e":-3.53},{"b":"v42","k":2.85,"e":-3.3},{"b":"v42","k":3.2802,"e":-3.18},{"b":"v42","k":3.71,"e":-3.22},{"b":"v42","k":4.1463,"e":-3.18},
{"b":"v42p","k":4.1463,"e":-3.18},{"b":"v42p","k":4.396,"e":-3.2},{"b":"v42p","k":4.6463,"e":-3.31},
{"b":"v43","k":0,"e":-3.53},{"b":"v43","k":0.25,"e":-3.52},{"b":"v43","k":0.5,"e":-3.5},{"b":"v43","k":0.75,"e":-3.48},{"b":"v43","k":1,"e":-3.45},{"b":"v43","k":1.35,"e":-3.4},{"b":"v43","k":1.7071,"e":-3.51},{"b":"v43","k":2.06,"e":-3.6},{"b":"v43","k":2.4142,"e":-3.53},{"b":"v43","k":2.85,"e":-3.5},{"b":"v43","k":3.2802,"e":-3.5},{"b":"v43","k":3.71,"e":-3.46},{"b":"v43","k":4.1463,"e":-3.45},
{"b":"v43p","k":4.1463,"e":-3.5},{"b":"v43p","k":4.396,"e":-3.5},{"b":"v43p","k":4.6463,"e":-3.51},
{"b":"v44","k":0,"e":-0.7},{"b":"v44","k":0.25,"e":-0.78},{"b":"v44","k":0.5,"e":-0.9},{"b":"v44","k":0.75,"e":-0.85},{"b":"v44","k":1,"e":-0.76},{"b":"v44","k":1.35,"e":-0.7},{"b":"v44","k":1.7071,"e":-0.78},{"b":"v44","k":2.06,"e":-0.75},{"b":"v44","k":2.4142,"e":-0.7},{"b":"v44","k":2.85,"e":-0.62},{"b":"v44","k":3.2802,"e":-0.5},{"b":"v44","k":3.71,"e":-0.68},{"b":"v44","k":4.1463,"e":-0.76},
{"b":"v44p","k":4.1463,"e":-0.5},{"b":"v44p","k":4.396,"e":-0.7},{"b":"v44p","k":4.6463,"e":-0.78},
{"b":"v45","k":0,"e":-1.03},{"b":"v45","k":0.25,"e":-1.15},{"b":"v45","k":0.5,"e":-1.28},{"b":"v45","k":0.75,"e":-1.35},{"b":"v45","k":1,"e":-1.3},{"b":"v45","k":1.35,"e":-1.15},{"b":"v45","k":1.7071,"e":-0.99},{"b":"v45","k":2.06,"e":-1.0},{"b":"v45","k":2.4142,"e":-1.03},{"b":"v45","k":2.85,"e":-1.1},{"b":"v45","k":3.2802,"e":-1.16},{"b":"v45","k":3.71,"e":-1.22},{"b":"v45","k":4.1463,"e":-1.3},
{"b":"v45p","k":4.1463,"e":-1.16},{"b":"v45p","k":4.396,"e":-1.1},{"b":"v45p","k":4.6463,"e":-0.99},
{"b":"v46","k":0,"e":-1.52},{"b":"v46","k":0.25,"e":-1.58},{"b":"v46","k":0.5,"e":-1.68},{"b":"v46","k":0.75,"e":-1.72},{"b":"v46","k":1,"e":-1.72},{"b":"v46","k":1.35,"e":-1.8},{"b":"v46","k":1.7071,"e":-1.92},{"b":"v46","k":2.06,"e":-1.7},{"b":"v46","k":2.4142,"e":-1.52},{"b":"v46","k":2.85,"e":-1.58},{"b":"v46","k":3.2802,"e":-1.42},{"b":"v46","k":3.71,"e":-1.6},{"b":"v46","k":4.1463,"e":-1.72},
{"b":"v46p","k":4.1463,"e":-1.42},{"b":"v46p","k":4.396,"e":-1.75},{"b":"v46p","k":4.6463,"e":-1.92},
{"b":"v47","k":0,"e":-1.93},{"b":"v47","k":0.25,"e":-1.98},{"b":"v47","k":0.5,"e":-2.05},{"b":"v47","k":0.75,"e":-2.1},{"b":"v47","k":1,"e":-2.15},{"b":"v47","k":1.35,"e":-2.08},{"b":"v47","k":1.7071,"e":-1.97},{"b":"v47","k":2.06,"e":-1.92},{"b":"v47","k":2.4142,"e":-1.93},{"b":"v47","k":2.85,"e":-2.1},{"b":"v47","k":3.2802,"e":-2.34},{"b":"v47","k":3.71,"e":-2.2},{"b":"v47","k":4.1463,"e":-2.15},
{"b":"v47p","k":4.1463,"e":-2.34},{"b":"v47p","k":4.396,"e":-2.1},{"b":"v47p","k":4.6463,"e":-1.97},
{"b":"v48","k":0,"e":-3.13},{"b":"v48","k":0.25,"e":-3.2},{"b":"v48","k":0.5,"e":-3.3},{"b":"v48","k":0.75,"e":-3.25},{"b":"v48","k":1,"e":-3.2},{"b":"v48","k":1.35,"e":-3.1},{"b":"v48","k":1.7071,"e":-2.9},{"b":"v48","k":2.06,"e":-3.0},{"b":"v48","k":2.4142,"e":-3.13},{"b":"v48","k":2.85,"e":-3.25},{"b":"v48","k":3.2802,"e":-3.5},{"b":"v48","k":3.71,"e":-3.35},{"b":"v48","k":4.1463,"e":-3.2},
{"b":"v48p","k":4.1463,"e":-3.5},{"b":"v48p","k":4.396,"e":-3.2},{"b":"v48p","k":4.6463,"e":-2.9}
]},
 "mark":{"type":"line","interpolate":"monotone","clip":true,"color":"#0000ff","strokeWidth":1.5},
 "encoding":{"y":{"field":"e","type":"quantitative","scale":{"domain":[-4,4.94],"nice":false,"zero":false},
  "axis":{"values":[-4,-3,-2,-1,0,1,2,3,4],"format":"d","grid":false,"domain":false,"tickSize":7,"tickColor":"#000","labelFont":"Liberation Serif","labelFontSize":17,"labelColor":"#222","labelPadding":7,"title":"E\u2002−\u2002Ef\u2002(eV)","titleFont":"Liberation Serif","titleFontSize":25,"titleFontWeight":"normal","titleColor":"#222","titleAngle":270,"titleBaseline":"alphabetic","titleX":-59,"titleY":357}},
  "detail":{"field":"b","type":"nominal"}}},
{"data":{"values":[{"k":0,"p":"Γ"},{"k":1,"p":"H"},{"k":1.7071,"p":"N"},{"k":2.4142,"p":"Γ"},{"k":3.2802,"p":"P"},{"k":4.1463,"p":"H|P"},{"k":4.6463,"p":"N"}]},
 "mark":{"type":"rule","color":"#000","strokeWidth":2.2},
 "encoding":{}}
]
}
